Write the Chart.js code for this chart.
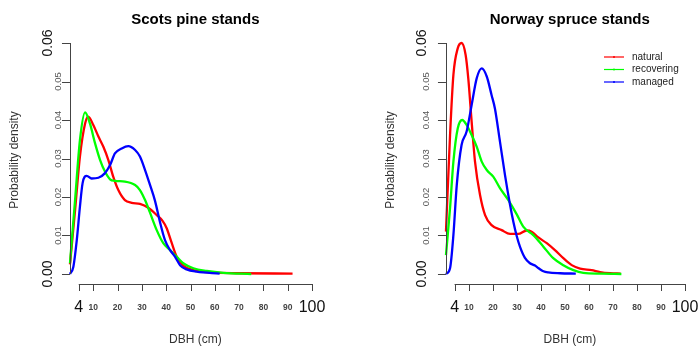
<!DOCTYPE html>
<html>
<head>
<meta charset="utf-8">
<script src="https://cdn.jsdelivr.net/npm/chart.js@4.4.1/dist/chart.umd.min.js"></script>
<style>
  body { margin: 0; background: #fff; }
  #wrap { position: relative; width: 698px; height: 348px; }
  canvas { position: absolute; top: 0; }
</style>
</head>
<body>
<div id="wrap">
  <canvas id="pineChart" width="349" height="348" style="left:0"></canvas>
  <canvas id="spruceChart" width="349" height="348" style="left:349px"></canvas>
</div>
<script>
// Axis ticks shared by both panels
const xTicks = [4, 10, 20, 30, 40, 50, 60, 70, 80, 90, 100];
const yTicks = [0, 0.01, 0.02, 0.03, 0.04, 0.05, 0.06];
const yTickLabels = ['0.00', '0.01', '0.02', '0.03', '0.04', '0.05', '0.06'];
const seriesNames = ['natural', 'recovering', 'managed'];
const seriesColors = ['#ff0000', '#00ff00', '#0000ff'];

// Scots pine stands - DBH (cm) and density
const pineNaturalX = [0.4, 2.5, 4.5, 6.6, 7.9, 10, 12.1, 14.1, 16.2, 18.2, 20.3, 23, 25.8, 29.2, 32.6, 36.1, 38.5, 40.2, 42.3, 44.3, 47, 51.2, 58, 70, 92];
const pineNaturalY = [0.0025, 0.0166, 0.0305, 0.039, 0.0409, 0.0387, 0.0357, 0.0331, 0.0296, 0.0253, 0.0218, 0.0192, 0.0185, 0.0182, 0.0172, 0.0153, 0.0138, 0.0119, 0.008, 0.0045, 0.0022, 0.001, 0.0004, 0.0002, 0.0001];
const pineRecoveringX = [0.4, 2.5, 4.5, 6.6, 8.6, 10.7, 12.8, 14.8, 16.9, 18.9, 23, 27.2, 29.2, 31.3, 33.3, 36.1, 38.8, 41.6, 44.3, 47, 51.2, 56.7, 63.5, 75];
const pineRecoveringY = [0.0028, 0.0192, 0.0348, 0.042, 0.0391, 0.034, 0.0296, 0.0266, 0.0246, 0.0242, 0.024, 0.0231, 0.0218, 0.0192, 0.016, 0.0114, 0.008, 0.0062, 0.0045, 0.0028, 0.0015, 0.0008, 0.0003, 0];
const pineManagedX = [0.4, 1.8, 3.2, 4.5, 5.6, 7.3, 9.3, 12.1, 14.8, 16.9, 18.9, 21.7, 24.4, 27.2, 29.2, 31.3, 33.3, 35.4, 37.4, 39.5, 41.6, 43.6, 45.7, 48.4, 52.5, 62];
const pineManagedY = [0, 0.0019, 0.0088, 0.0175, 0.0236, 0.0255, 0.0248, 0.025, 0.0262, 0.0283, 0.0313, 0.0326, 0.0332, 0.0322, 0.0305, 0.027, 0.0232, 0.019, 0.0136, 0.0088, 0.0062, 0.0045, 0.0023, 0.0012, 0.0006, 0.0001];

// Norway spruce stands
const spruceNaturalX = [0.4, 2.1, 3.5, 5.3, 6.9, 8.6, 9.7, 11.1, 12.5, 14.6, 16.7, 19.4, 23.6, 27.1, 30.5, 34, 36.1, 38.9, 42.4, 45.8, 49.3, 52.8, 56.3, 61.1, 64.6, 68.8, 73.2];
const spruceNaturalY = [0.011, 0.036, 0.0517, 0.0586, 0.06, 0.0569, 0.0508, 0.0396, 0.0292, 0.0205, 0.0153, 0.0127, 0.0114, 0.0104, 0.0104, 0.0113, 0.011, 0.0095, 0.008, 0.0062, 0.0041, 0.0023, 0.0014, 0.001, 0.0005, 0.0002, 0.0001];
const spruceRecoveringX = [0.4, 2.1, 3.5, 5.3, 7.2, 9, 11.1, 13.2, 15.3, 17.4, 20.1, 22.9, 26.4, 29.9, 32.6, 36.8, 41, 45.1, 49.3, 53.5, 57.6, 65, 73.5];
const spruceRecoveringY = [0.0049, 0.0171, 0.0292, 0.0378, 0.04, 0.0387, 0.0361, 0.0331, 0.0292, 0.027, 0.0253, 0.0223, 0.0192, 0.0155, 0.0123, 0.0101, 0.0071, 0.0041, 0.0023, 0.001, 0.0003, 0.0001, 0];
const spruceManagedX = [0.4, 2.1, 3.5, 4.9, 6.9, 9, 11.1, 13.2, 15.3, 17.4, 19.4, 20.8, 22.9, 25, 27.1, 28.5, 29.9, 31.3, 33.3, 35.4, 37.5, 39, 41, 43, 48, 54.5];
const spruceManagedY = [0, 0.0015, 0.0101, 0.0231, 0.0335, 0.037, 0.0439, 0.0508, 0.0534, 0.0513, 0.0465, 0.043, 0.0344, 0.0257, 0.018, 0.0135, 0.0098, 0.007, 0.0042, 0.0028, 0.0022, 0.0015, 0.0007, 0.0004, 0.0002, 0.0001];

const FONT = '"Liberation Sans", Arial, sans-serif';

// R-style axes, titles and legend drawn with the chart's own scales
const rStyle = {
  id: 'rStyle',
  afterDraw(chart, args, o) {
    const ctx = chart.ctx;
    const xs = chart.scales.x, ys = chart.scales.y;
    const axisX = xs.getPixelForValue(0.4);
    const y0 = ys.getPixelForValue(0);
    const xAxisY = y0 + 10;
    const xa = xs.getPixelForValue(xTicks[0]);
    const xb = xs.getPixelForValue(xTicks[xTicks.length - 1]);
    const cx = (xa + xb) / 2;

    ctx.save();
    ctx.strokeStyle = '#444';
    ctx.lineWidth = 1;

    // y axis
    ctx.beginPath();
    ctx.moveTo(Math.round(axisX) + 0.5, ys.getPixelForValue(0));
    ctx.lineTo(Math.round(axisX) + 0.5, ys.getPixelForValue(0.06));
    yTicks.forEach(v => {
      const py = Math.round(ys.getPixelForValue(v)) + 0.5;
      ctx.moveTo(axisX - 8, py);
      ctx.lineTo(axisX, py);
    });
    ctx.stroke();

    yTicks.forEach((v, i) => {
      const big = i === 0 || i === yTicks.length - 1;
      ctx.save();
      ctx.translate(axisX - (big ? o.bigGap : o.smallGap), ys.getPixelForValue(v));
      ctx.rotate(-Math.PI / 2);
      ctx.textAlign = 'center';
      ctx.textBaseline = 'alphabetic';
      ctx.fillStyle = big ? '#111' : '#555';
      ctx.font = big ? '14px ' + FONT : '9.5px ' + FONT;
      ctx.fillText(yTickLabels[i], 0, 0);
      ctx.restore();
    });

    // x axis
    ctx.beginPath();
    ctx.moveTo(xa, xAxisY + 0.5);
    ctx.lineTo(xb, xAxisY + 0.5);
    xTicks.forEach(v => {
      const px = Math.round(xs.getPixelForValue(v)) + 0.5;
      ctx.moveTo(px, xAxisY);
      ctx.lineTo(px, xAxisY + 7);
    });
    ctx.stroke();

    ctx.textAlign = 'center';
    ctx.textBaseline = 'middle';
    xTicks.forEach((v, i) => {
      const big = i === 0 || i === xTicks.length - 1;
      ctx.fillStyle = big ? '#111' : '#444';
      ctx.font = big ? '16px ' + FONT : 'bold 8.5px ' + FONT;
      ctx.fillText(String(v), xs.getPixelForValue(v), 308);
    });

    // titles
    ctx.fillStyle = '#000';
    ctx.font = 'bold 15px ' + FONT;
    ctx.fillText(o.title, cx, 20);
    ctx.fillStyle = '#333';
    ctx.font = '12px ' + FONT;
    ctx.fillText('DBH (cm)', cx, 340);
    ctx.save();
    ctx.translate(axisX - 55, 160);
    ctx.rotate(-Math.PI / 2);
    ctx.fillText('Probability density', 0, 0);
    ctx.restore();

    // legend
    if (o.legend) {
      seriesNames.forEach((name, i) => {
        const ly = 57 + i * 12.5;
        ctx.strokeStyle = seriesColors[i];
        ctx.lineWidth = 1.2;
        ctx.beginPath();
        ctx.moveTo(255, ly);
        ctx.lineTo(275, ly);
        ctx.stroke();
        ctx.fillStyle = seriesColors[i];
        ctx.beginPath();
        ctx.arc(265, ly, 1, 0, Math.PI * 2);
        ctx.fill();
        ctx.fillStyle = '#222';
        ctx.font = '10px ' + FONT;
        ctx.textAlign = 'left';
        ctx.fillText(name, 283, ly);
      });
    }
    ctx.restore();
  }
};

function makeSeries(xArr, yArr, i) {
  return {
    label: seriesNames[i],
    data: xArr.map((v, k) => ({ x: v, y: yArr[k] })),
    borderColor: seriesColors[i],
    borderWidth: 2.3,
    pointRadius: 0,
    cubicInterpolationMode: 'monotone',
    fill: false,
    clip: false,
    order: 2 - i
  };
}

function makeChart(id, datasets, padding, extra) {
  return new Chart(document.getElementById(id), {
    type: 'line',
    data: { datasets: datasets },
    options: {
      responsive: false,
      animation: false,
      layout: { padding: padding },
      scales: {
        x: { type: 'linear', min: 0, max: 100, display: false },
        y: { min: 0, max: 0.06, display: false }
      },
      plugins: {
        legend: { display: false },
        tooltip: { enabled: false },
        rStyle: extra
      }
    },
    plugins: [rStyle]
  });
}

makeChart('pineChart', [
  makeSeries(pineNaturalX, pineNaturalY, 0),
  makeSeries(pineRecoveringX, pineRecoveringY, 1),
  makeSeries(pineManagedX, pineManagedY, 2)
], { left: 69, right: 37, top: 43, bottom: 74 },
  { title: 'Scots pine stands', legend: false, smallGap: 9, bigGap: 18 });

makeChart('spruceChart', [
  makeSeries(spruceNaturalX, spruceNaturalY, 0),
  makeSeries(spruceRecoveringX, spruceRecoveringY, 1),
  makeSeries(spruceManagedX, spruceManagedY, 2)
], { left: 96, right: 13, top: 43, bottom: 74 },
  { title: 'Norway spruce stands', legend: true, smallGap: 17, bigGap: 20 });
</script>
</body>
</html>
